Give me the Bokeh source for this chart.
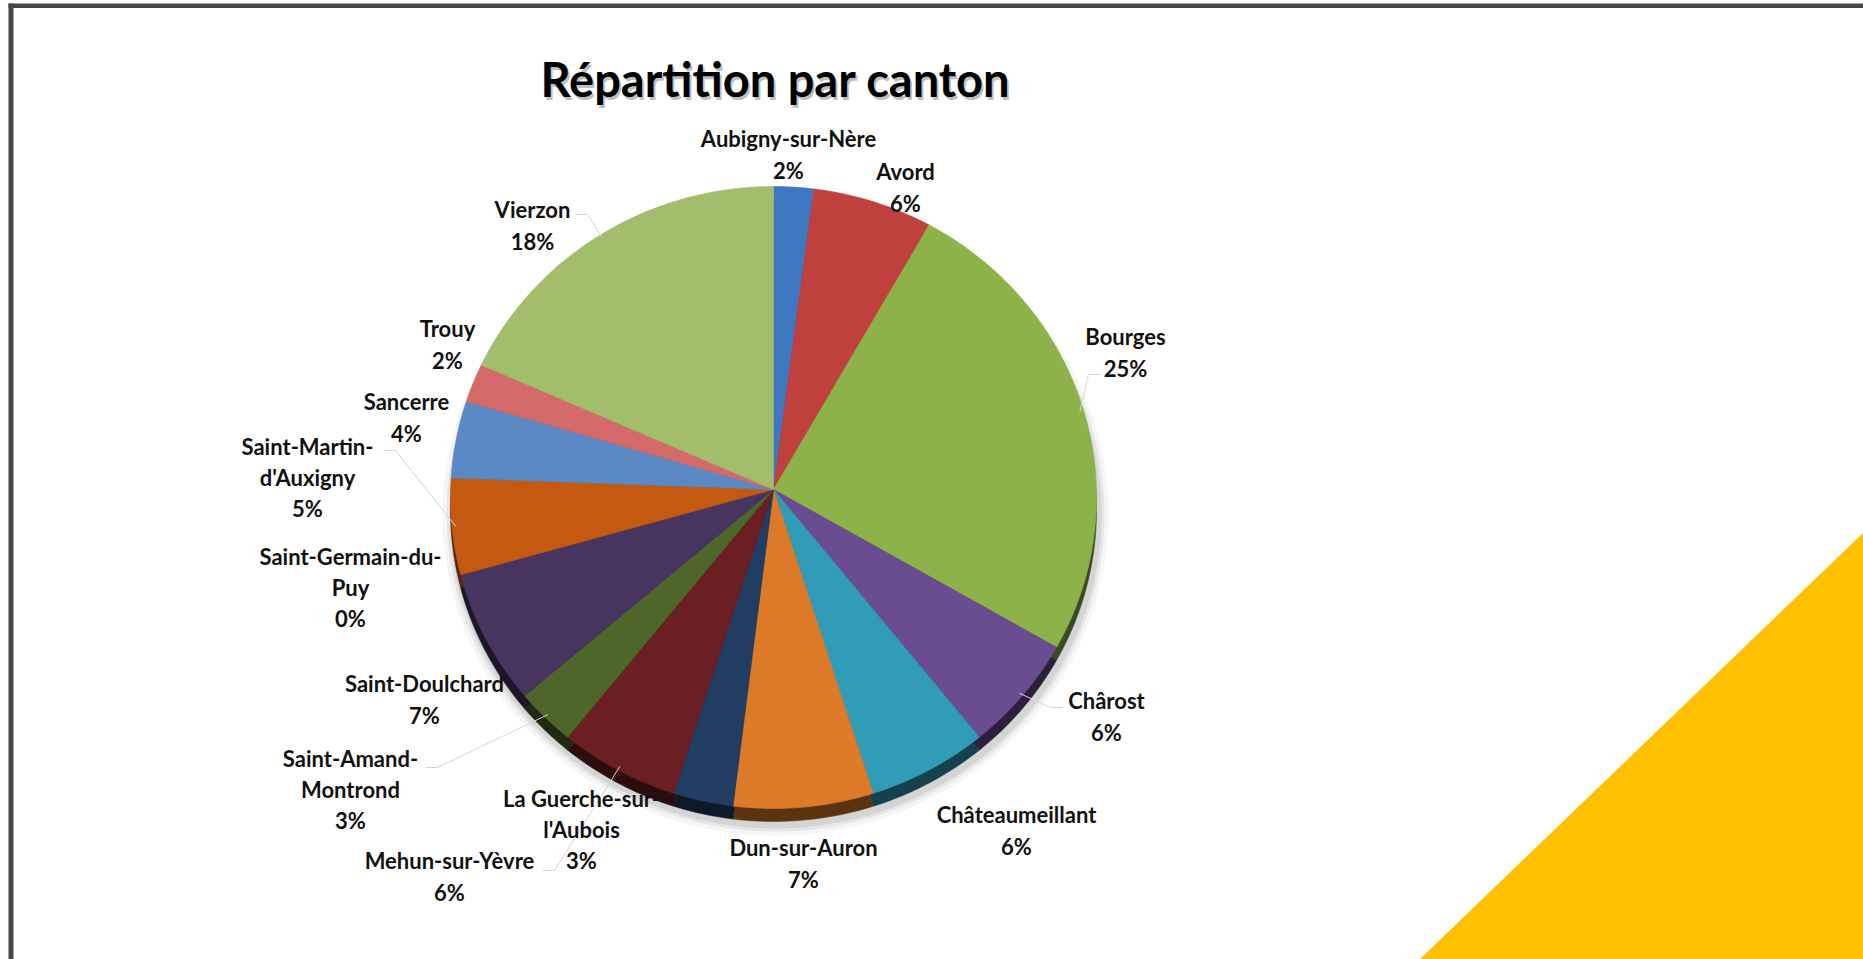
import math
from bokeh.plotting import figure
from bokeh.models import Range1d, ColumnDataSource
from bokeh.core.properties import value
from bokeh.embed import file_html
from bokeh.resources import INLINE

# ---------------- data ----------------
TITLE = "Répartition par canton"
cantons = [
    "Aubigny-sur-Nère", "Avord", "Bourges", "Chârost", "Châteaumeillant",
    "Dun-sur-Auron", "La Guerche-sur-l'Aubois", "Mehun-sur-Yèvre",
    "Saint-Amand-Montrond", "Saint-Doulchard", "Saint-Germain-du-Puy",
    "Saint-Martin-d'Auxigny", "Sancerre", "Trouy", "Vierzon",
]
percents = [2, 6, 25, 6, 6, 7, 3, 6, 3, 7, 0, 5, 4, 2, 18]

# ---------------- styles ----------------
colors = [
    "#3E78C2", "#C0403D", "#8DB24A", "#6A4C91", "#319CB8",
    "#DC7A2A", "#213D63", "#6B1F22", "#4E6629", "#47355F",
    "#2A7A93", "#C65911", "#5A89C4", "#D46A6A", "#A2BD6B",
]


def darken(hexc, f):
    r, g, b = (int(hexc[i:i + 2], 16) for i in (1, 3, 5))
    return "#%02x%02x%02x" % (int(r * f), int(g * f), int(b * f))


side_colors = [darken(c, 0.42) for c in colors]

# layout (reference pixel coordinates, y downwards)
W, H = 1863, 959
PIE_CX, PIE_CY, APEX_Y = 773, 497, 489
PIE_RX, PIE_RY, DEPTH = 323, 311, 13
label_pos = [
    (788, 154), (905, 187), (1125, 352), (1106, 716), (1016, 830),
    (803, 863), (581, 829), (449, 876), (350, 789), (424, 699),
    (350, 587), (307, 477), (406, 417), (447, 344), (532, 225),
]
# leader-line start points (label side), None = no leader
leader_start = [
    None, None, (1100, 374), (1062, 707), None,
    None, None, (542, 870), (425, 767), None,
    None, (383, 450), None, None, (575, 214),
]


def X(xr):
    return xr


def Y(yr):
    return H - yr


def wrap(name):
    if len(name) > 16 and "-" in name:
        k = name.rfind("-", 0, len(name) - 1)
        return name[:k + 1] + "\n" + name[k + 1:]
    return name


p = figure(width=W, height=H, x_range=Range1d(0, W), y_range=Range1d(0, H),
           output_backend="svg", toolbar_location=None, min_border=0)
p.xaxis.visible = False
p.yaxis.visible = False
p.grid.visible = False
p.outline_line_color = None
p.background_fill_color = "white"
p.border_fill_color = "white"

# frame and decoration
p.quad(left=[X(8)], right=[X(13)], bottom=[Y(959)], top=[Y(3)], fill_color="#474747", line_color=None)
p.quad(left=[X(8)], right=[X(1863)], bottom=[Y(7.5)], top=[Y(3)], fill_color="#474747", line_color=None)
p.patch(x=[X(1864), X(1864), X(1418)], y=[Y(531), Y(960), Y(960)],
        fill_color="#FFC000", line_color=None)

# pie geometry from data (slightly tilted pie: elliptical outline)
total = float(sum(percents))
fr0, fr1 = [], []
c = 0.0
for v in percents:
    fr0.append(c / total)
    c += v
    fr1.append(c / total)


def arc_pts(f0, f1, dy=0.0):
    n = max(2, int((f1 - f0) * 360))
    xs, ys = [], []
    for j in range(n + 1):
        t = 2 * math.pi * (f0 + (f1 - f0) * j / n)
        xs.append(X(PIE_CX + PIE_RX * math.sin(t)))
        ys.append(Y(PIE_CY + dy - PIE_RY * math.cos(t)))
    return xs, ys


idx = [i for i, v in enumerate(percents) if v > 0]
top_x, top_y, side_x, side_y = [], [], [], []
for i in idx:
    ax, ay = arc_pts(fr0[i], fr1[i])
    top_x.append([X(PIE_CX)] + ax)
    top_y.append([Y(APEX_Y)] + ay)
    bx, by = arc_pts(fr0[i], fr1[i], DEPTH)
    side_x.append([X(PIE_CX)] + bx)
    side_y.append([Y(APEX_Y + DEPTH)] + by)

# soft shadow
for k, a in ((10, 0.04), (6, 0.06), (3, 0.08)):
    p.ellipse(x=[X(PIE_CX + 2)], y=[Y(PIE_CY + DEPTH + 4)], width=[2 * PIE_RX + 2 * k],
              height=[2 * PIE_RY + 2 * k], fill_color="black", fill_alpha=a, line_color=None)

# 3D side
p.patches(xs=side_x, ys=side_y, fill_color=[side_colors[i] for i in idx],
          line_color=[side_colors[i] for i in idx], line_width=0.5)
# top surface
p.patches(xs=top_x, ys=top_y, fill_color=[colors[i] for i in idx],
          line_color=[colors[i] for i in idx], line_width=0.6)

# leader lines
for i, s in enumerate(leader_start):
    if s is None:
        continue
    t = math.pi * (fr0[i] + fr1[i])
    ex = X(PIE_CX + (PIE_RX - 4) * math.sin(t))
    ey = Y(PIE_CY - (PIE_RY - 4) * math.cos(t))
    sx, sy = X(s[0]), Y(s[1])
    mx = sx + (12 if ex > sx else -12)
    p.line(x=[sx, mx, ex], y=[sy, sy, ey], line_color="#d6d6d6", line_width=1)

# labels
lab_src = ColumnDataSource(dict(
    x=[X(q[0]) for q in label_pos], y=[Y(q[1]) for q in label_pos],
    t=[wrap(n) + "\n" + f"{v}%" for n, v in zip(cantons, percents)],
))
p.text(x="x", y="y", text="t", source=lab_src, text_font=value("Lato"),
       text_font_style="bold", text_font_size="22px", text_color="#111111",
       text_align="center", text_baseline="middle", text_line_height=1.15)

# title with shadow
p.text(x=[X(777)], y=[Y(81)], text=[TITLE], text_font=value("Lato"), text_font_style="bold",
       text_font_size="47px", text_color="#000000", text_alpha=0.25,
       text_align="center", text_baseline="middle")
p.text(x=[X(775)], y=[Y(78)], text=[TITLE], text_font=value("Lato"), text_font_style="bold",
       text_font_size="47px", text_color="#000000",
       text_align="center", text_baseline="middle")

open("out.html", "w").write(file_html(p, INLINE))
